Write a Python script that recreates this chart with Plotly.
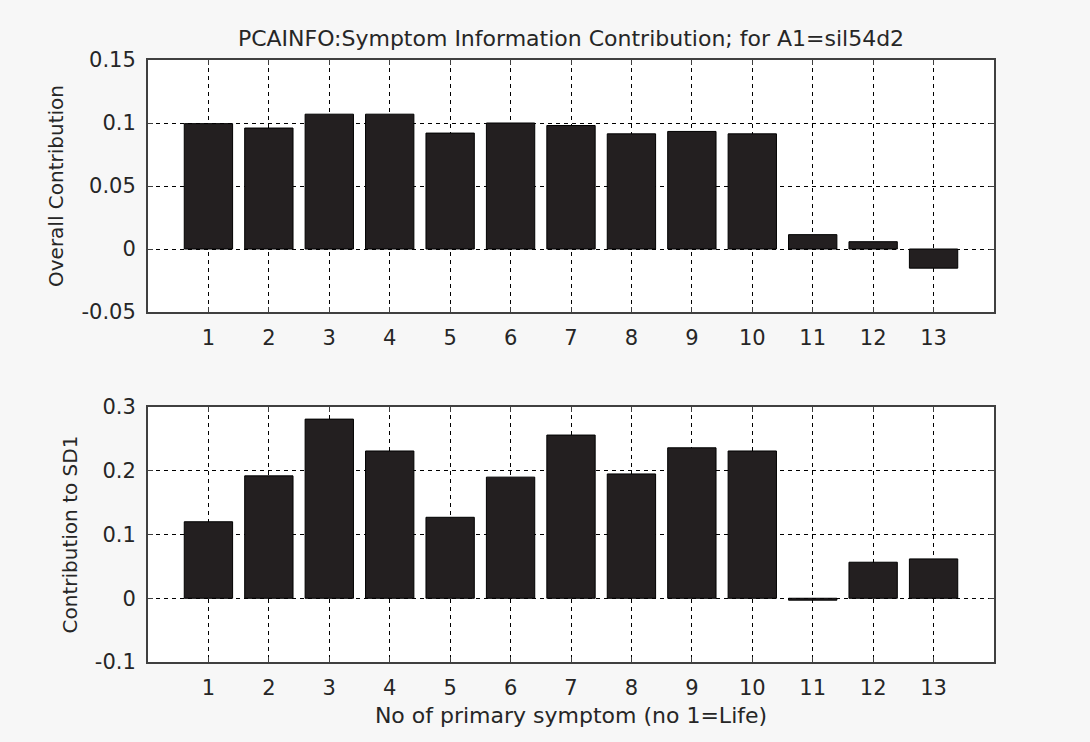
import plotly.graph_objects as go

symptoms = list(range(1, 14))
overall = [0.0995, 0.096, 0.107, 0.107, 0.092, 0.100, 0.098, 0.0914, 0.0933, 0.0914, 0.0114, 0.0058, -0.0152]
sd1 = [0.120, 0.192, 0.281, 0.231, 0.127, 0.190, 0.256, 0.195, 0.236, 0.231, -0.003, 0.0565, 0.0617]
tick_labels = [str(s) for s in symptoms]

title_text = "PCAINFO:Symptom Information Contribution; for A1=sil54d2"
ytitle1 = "Overall Contribution"
ytitle2 = "Contribution to SD1"
xtitle = "No of primary symptom (no 1=Life)"

bar_color = "#231f20"
font_fam = "DejaVu Sans, Liberation Sans, Arial, sans-serif"
txt_color = "#262626"
frame_color = "#404040"

fig = go.Figure()
fig.add_trace(go.Bar(x=symptoms, y=overall, width=0.8, marker=dict(color=bar_color, line=dict(color="#000", width=1)),
                     xaxis="x", yaxis="y", showlegend=False))
fig.add_trace(go.Bar(x=symptoms, y=sd1, width=0.8, marker=dict(color=bar_color, line=dict(color="#000", width=1)),
                     xaxis="x2", yaxis="y2", showlegend=False))

W, H = 1090, 742
xdom = [148 / W, 994 / W]
ydom1 = [1 - 312 / H, 1 - 60 / H]
ydom2 = [1 - 662 / H, 1 - 407 / H]

tickfont = dict(size=21, color=txt_color, family=font_fam)
ytitlefont = dict(size=20, color=txt_color, family=font_fam)
bigfont = dict(size=22, color=txt_color, family=font_fam)
grid_dash = "4px,4px"

common_x = dict(range=[0, 14], tickmode="array", tickvals=symptoms, ticktext=tick_labels,
                showgrid=True, gridcolor="#000", griddash=grid_dash, gridwidth=1,
                zeroline=False, showline=True, linecolor=frame_color, linewidth=2, mirror="ticks",
                ticks="inside", ticklen=5, tickcolor=frame_color, ticklabelstandoff=6,
                tickfont=tickfont, domain=xdom, fixedrange=True, automargin=False)
common_y = dict(showgrid=True, gridcolor="#000", griddash=grid_dash, gridwidth=1,
                zeroline=False, showline=True, linecolor=frame_color, linewidth=2, mirror="ticks",
                ticks="inside", ticklen=5, tickcolor=frame_color, ticklabelstandoff=6,
                tickfont=tickfont, fixedrange=True, automargin=False)

fig.update_layout(
    width=W, height=H,
    paper_bgcolor="#f7f7f7", plot_bgcolor="#ffffff",
    margin=dict(l=0, r=0, t=0, b=0, autoexpand=False),
    bargap=0.2,
    title=dict(text=title_text, x=571 / W, xanchor="center", y=1 - 38 / H, yanchor="middle",
               font=bigfont, automargin=False),
    xaxis=dict(**common_x, anchor="y"),
    yaxis=dict(**common_y, domain=ydom1, anchor="x", range=[-0.05, 0.15],
               tickvals=[-0.05, 0, 0.05, 0.1, 0.15], ticktext=["-0.05", "0", "0.05", "0.1", "0.15"],
               title=dict(text=ytitle1, standoff=12, font=ytitlefont)),
    xaxis2=dict(**common_x, anchor="y2",
                title=dict(text=xtitle, standoff=8, font=bigfont)),
    yaxis2=dict(**common_y, domain=ydom2, anchor="x2", range=[-0.1, 0.3],
                tickvals=[-0.1, 0, 0.1, 0.2, 0.3], ticktext=["-0.1", "0", "0.1", "0.2", "0.3"],
                title=dict(text=ytitle2, standoff=12, font=ytitlefont)),
)

fig.write_html("out.html", config={"displayModeBar": False},
               post_script="document.body.style.margin='0';document.body.style.padding='0';")
